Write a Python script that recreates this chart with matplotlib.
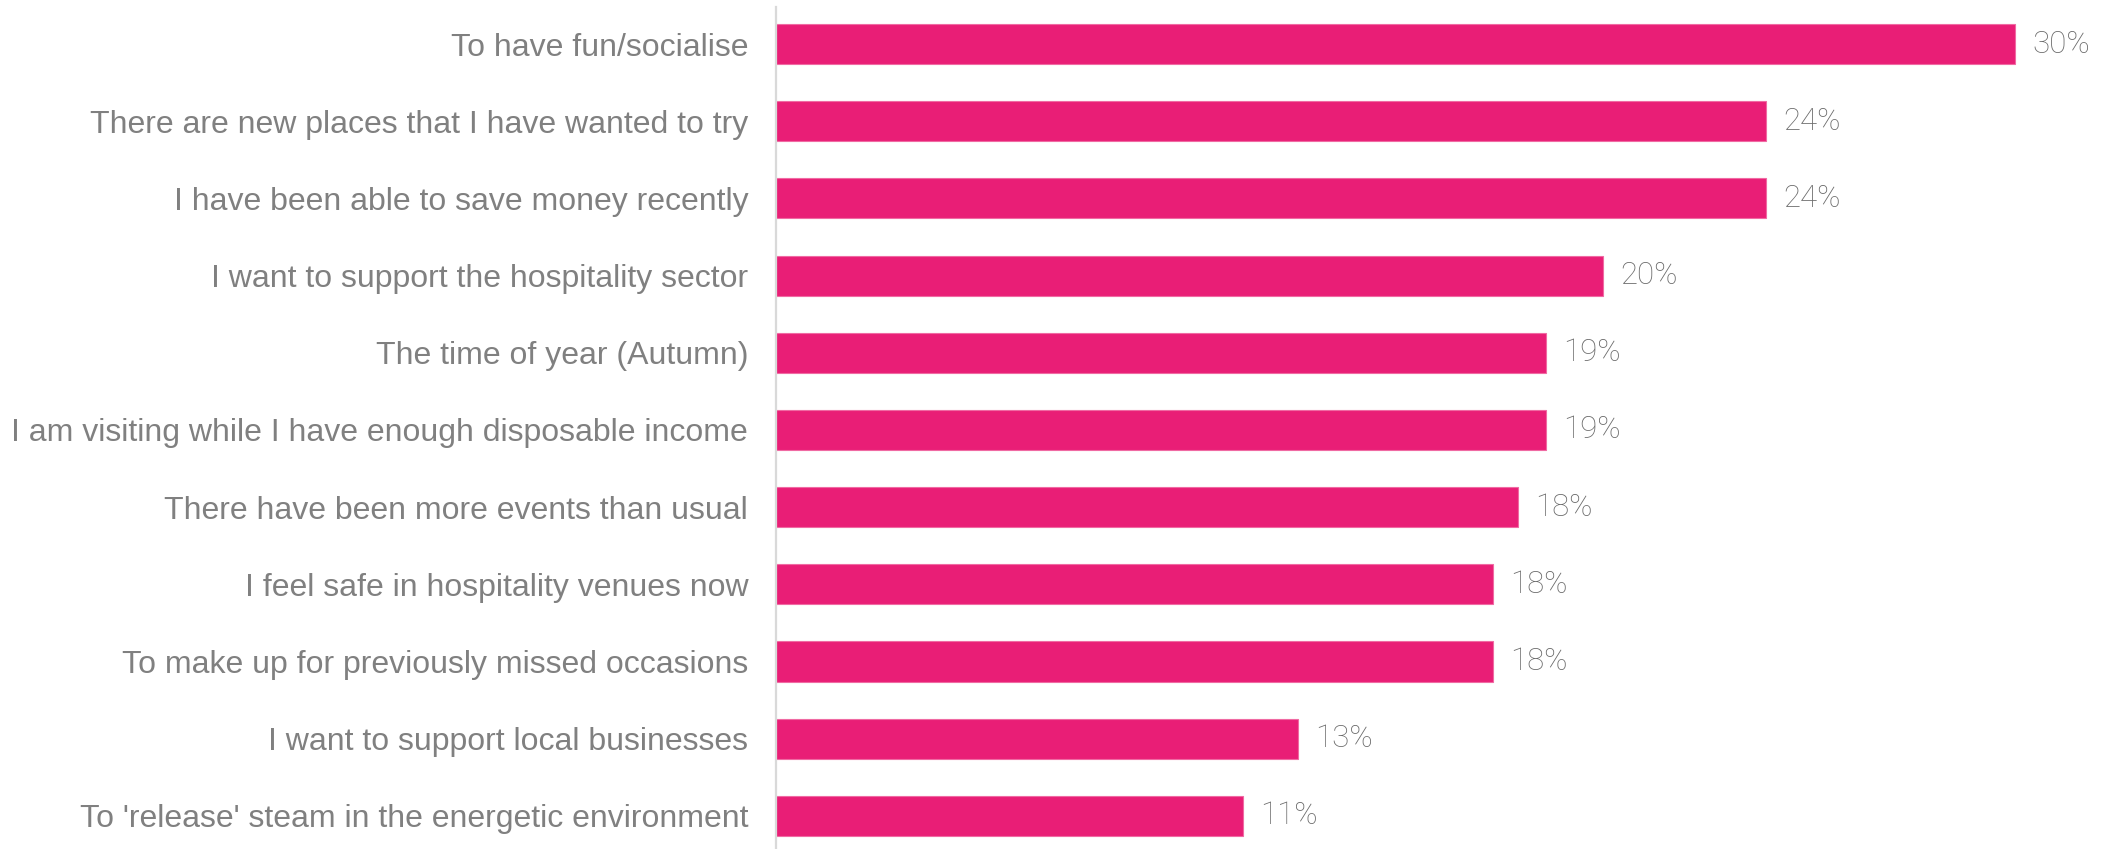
import matplotlib
matplotlib.use("Agg")
import matplotlib.pyplot as plt

categories = [
    "To have fun/socialise",
    "There are new places that I have wanted to try",
    "I have been able to save money recently",
    "I want to support the hospitality sector",
    "The time of year (Autumn)",
    "I am visiting while I have enough disposable income",
    "There have been more events than usual",
    "I feel safe in hospitality venues now",
    "To make up for previously missed occasions",
    "I want to support local businesses",
    "To 'release' steam in the energetic environment",
]
values = [30.4, 24.3, 24.3, 20.3, 18.9, 18.9, 18.2, 17.6, 17.6, 12.8, 11.45]

BAR_COLOR = "#E91E76"
TEXT_COLOR = "#808080"
VALUE_COLOR = "#6A6A6A"
AXIS_COLOR = "#D9D9D9"

W, H, DPI = 2107, 849, 100
fig = plt.figure(figsize=(W / DPI, H / DPI), dpi=DPI)
fig.patch.set_facecolor("white")

left_px, top_px = 776, 7
ax = fig.add_axes([left_px / W, 0, (W - left_px) / W, (H - top_px) / H])

px_per_unit = 1239 / 30.4
ax.set_xlim(0, (W - left_px) / px_per_unit)

y = list(range(len(categories)))
ax.barh(y, values, height=0.52, color=BAR_COLOR, edgecolor="#F06AA3", linewidth=0.8)
ax.set_ylim(len(categories) - 1 + 0.43, -0.48)

for yi, v in zip(y, values):
    ax.text(v + 17 / px_per_unit, yi, f"{round(v):.0f}%", va="center", ha="left",
            fontsize=22.5, color=VALUE_COLOR, family=["Roboto", "DejaVu Sans"],
            fontweight="light")

ax.set_yticks(y)
ax.set_yticklabels(categories, fontsize=23, color=TEXT_COLOR,
                   family=["Liberation Sans", "DejaVu Sans"])
ax.tick_params(axis="y", length=0, pad=20)
ax.set_xticks([])

for s in ["top", "right", "bottom"]:
    ax.spines[s].set_visible(False)
ax.spines["left"].set_color(AXIS_COLOR)
ax.spines["left"].set_linewidth(1.6)
ax.set_facecolor("none")

fig.savefig("out.png", dpi=DPI, facecolor="white")
